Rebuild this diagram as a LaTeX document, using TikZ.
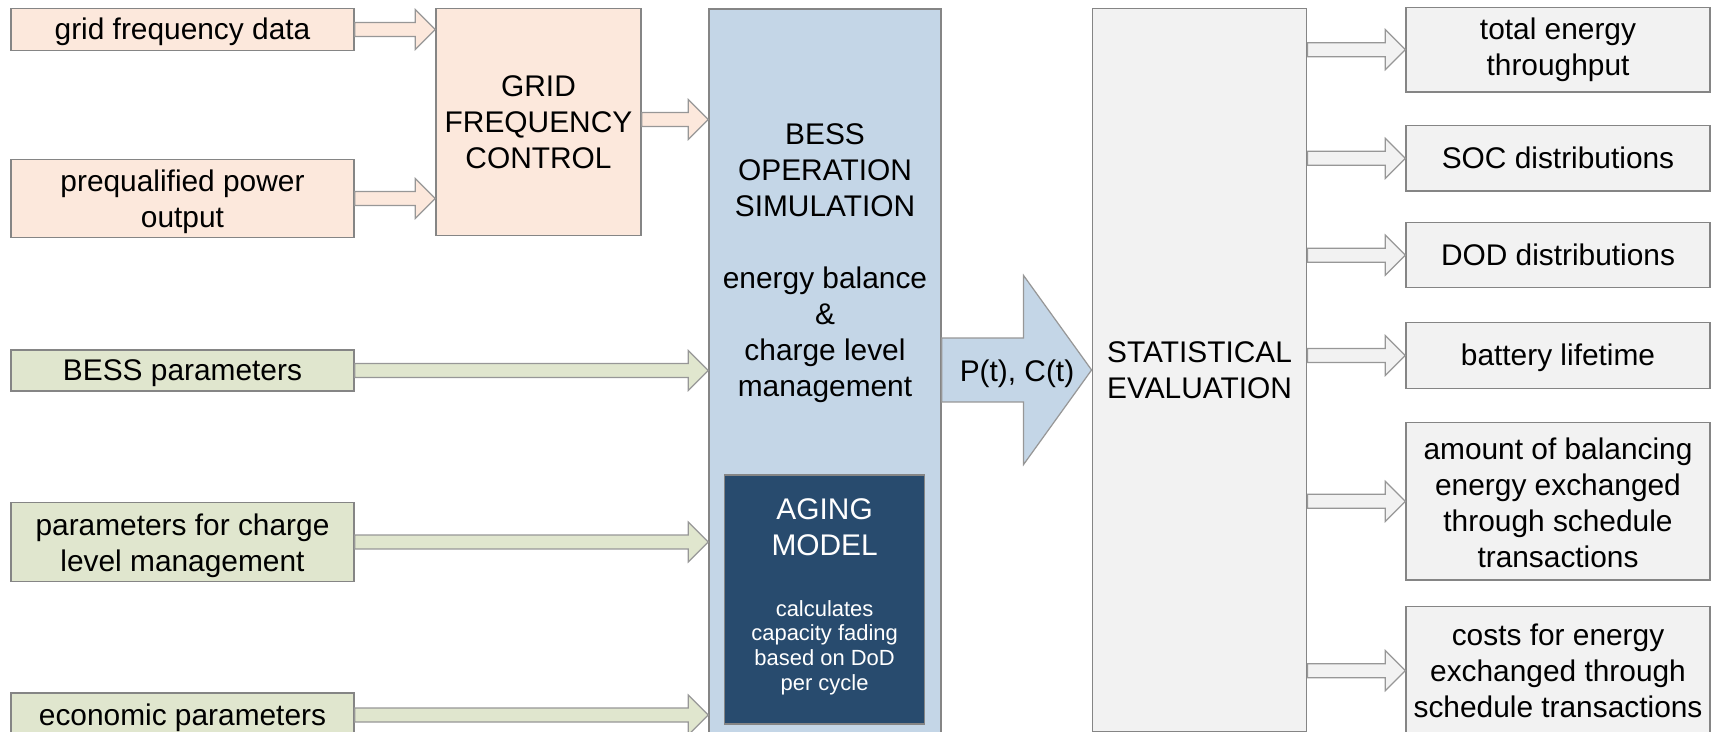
\documentclass[tikz,border=0pt]{standalone}
\usepackage{fontspec}
\setmainfont{Liberation Sans}
\usetikzlibrary{calc}
\definecolor{peach}{HTML}{FCE8DC}
\definecolor{olive}{HTML}{E0E6CE}
\definecolor{bessblue}{HTML}{C4D6E7}
\definecolor{navy}{HTML}{284B6E}
\definecolor{lightgr}{HTML}{F2F2F2}
\definecolor{rim}{HTML}{858585}
\tikzset{
    block/.style = {draw=rim, rectangle, line width=0.8pt, align=center,
        inner sep=2pt, font=\fontsize{17}{20.5}\selectfont},
    oneline/.style = {execute at begin node={\rule[-0.212em]{0pt}{1.117em}}},
    inblock/.style = {block, minimum width=6.86cm},
    outblock/.style = {block, fill=lightgr, minimum width=6.08cm},
    txt/.style = {align=center, font=\fontsize{17}{20.5}\selectfont},
    arrowline/.style = {draw=rim!85, line width=0.7pt, line join=miter}
}
\newcommand{\fatarrow}[6]{%
    \draw[arrowline, fill=#1] let \p1=(#2), \p2=(#3) in
        (\x1,\y1+#4) -- (\x2-#6,\y1+#4) -- (\x2-#6,\y1+#5) -- (\x2,\y1)
        -- (\x2-#6,\y1-#5) -- (\x2-#6,\y1-#4) -- (\x1,\y1-#4) -- cycle;}
\newcommand{\thinarrow}[3]{\fatarrow{#1}{#2}{#3}{0.14cm}{0.4cm}{0.4cm}}
\newcommand{\topstrut}[1][0.95em]{\rule{0pt}{#1}}
\begin{document}
\begin{tikzpicture}[x=0.02cm, y=-0.02cm]
    \useasboundingbox (0,0) rectangle (1719,732);
    \clip (0,0) rectangle (1719,732);
    \node[inblock, oneline, fill=peach, minimum height=0.85cm] (gfd) at (182.5,29.5) {grid frequency data};
    \node[inblock, fill=peach, minimum height=1.42cm] (ppo) at (182.5,198.5) {\topstrut prequalified power\\output};
    \node[inblock, oneline, fill=olive, minimum height=0.82cm] (bpar) at (182.5,370.5) {BESS parameters};
    \node[inblock, fill=olive, minimum height=1.58cm] (clm) at (182.5,542) {\topstrut parameters for charge\\level management};
    \node[inblock, oneline, fill=olive, minimum height=0.88cm] (econ) at (182.5,715) {economic parameters};
    \node[block, fill=peach, minimum width=4.1cm, minimum height=4.55cm] (gfc) at (538.5,122) {GRID\\FREQUENCY\\CONTROL};
    \node[block, fill=bessblue, minimum width=4.64cm, minimum height=15.02cm] (bess) at (825,384.5) {};
    \node[txt] (besstitle) at (825,170.5) {BESS\\OPERATION\\SIMULATION};
    \node[txt] (bessbody) at (825,335) {energy balance\\\&\\charge level\\management};
    \node[block, fill=navy, minimum width=4cm, minimum height=4.98cm] (aging) at (824.6,599.5) {};
    \node[txt, text=white] (agingtitle) at (824.6,527) {AGING\\MODEL};
    \node[align=center, text=white, font=\fontsize{12.5}{14}\selectfont] (agingnote) at (824.6,647.5) {calculates\\capacity fading\\based on DoD\\per cycle};
    \node[block, fill=lightgr, minimum width=4.29cm, minimum height=14.47cm] (stat) at (1199.5,370) {STATISTICAL\\EVALUATION};
    \node[outblock, minimum height=1.69cm] (out1) at (1558,49.7) {total energy\\throughput};
    \node[outblock, oneline, minimum height=1.31cm] (out2) at (1558,158.3) {SOC distributions};
    \node[outblock, oneline, minimum height=1.3cm] (out3) at (1558,255.2) {DOD distributions};
    \node[outblock, oneline, minimum height=1.31cm] (out4) at (1558,355.5) {battery lifetime};
    \node[outblock, minimum height=3.15cm] (out5) at (1558,501.3) {\topstrut[0.84em]amount of balancing\\energy exchanged\\through schedule\\transactions};
    \node[outblock, minimum height=2.56cm] (out6) at (1558,670.7) {costs for energy\\exchanged through\\schedule transactions};
    \thinarrow{peach}{gfd.east}{gfc.west |- gfd.east}
    \thinarrow{peach}{ppo.east}{gfc.west |- ppo.east}
    \thinarrow{peach}{gfc.east |- 0,119.5}{bess.west |- 0,119.5}
    \thinarrow{olive}{bpar.east}{bess.west |- bpar.east}
    \thinarrow{olive}{clm.east}{bess.west |- clm.east}
    \thinarrow{olive}{econ.east}{bess.west |- econ.east}
    \fatarrow{bessblue}{bess.east |- stat.west}{stat.west}{0.64cm}{1.89cm}{1.36cm}
    \node[txt] (pct) at (1017,373.5) {P(t), C(t)};
    \foreach \o in {out1,out2,out3,out4,out5,out6}{
        \thinarrow{lightgr}{stat.east |- \o.west}{\o.west}
    }
\end{tikzpicture}
\end{document}
